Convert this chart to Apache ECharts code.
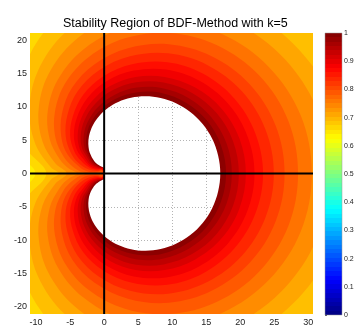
<!DOCTYPE html>
<html>
<head>
<meta charset="utf-8">
<script src="https://cdn.jsdelivr.net/npm/echarts@6/dist/echarts.min.js"></script>
<style>
html, body { margin: 0; padding: 0; background: #fff; }
#chart { width: 358px; height: 327px; }
</style>
</head>
<body>
<div id="chart"></div>
<script>
// axis extents and ticks
var xRange = [-10.9, 30.7];
var yRange = [-21.1, 21.1];
var xTicks = [-10, -5, 0, 5, 10, 15, 20, 25, 30];
var yTicks = [-20, -15, -10, -5, 0, 5, 10, 15, 20];

// level lines of the colour field, upper half only (the picture is mirror symmetric in y)
var c065 = [[42.7,0],[40,13.3],[32.5,24.2],[21.7,31.1],[9.9,33.2],[-1.0,30.6],[-9.1,24.6],[-13.6,17.0],[-14.6,9.4],[-12.8,3.2],[-10.1,0]];
var c0675 = [[39.2,0],[36.85,11.95],[30.15,21.85],[20.55,28.15],[9.9,30.2],[0.1,28.1],[-7.35,22.95],[-11.65,16.25],[-12.8,9.45],[-11.45,3.8],[-8.5,0]];
var c070 = [[35.75,0],[33.7,10.6],[27.8,19.5],[19.4,25.2],[9.9,27.2],[1.2,25.6],[-5.6,21.3],[-9.7,15.5],[-11.0,9.5],[-10.1,4.4],[-7.8,0.9],[-6.65,0]];
var c0725 = [[33.1,0],[31.3,9.65],[26.0,17.75],[18.4,23.05],[9.85,25.0],[1.9,23.7],[-4.35,19.95],[-8.25,14.8],[-9.65,9.4],[-9.05,4.78],[-7.15,1.5],[-5.5,0]];
var c075 = [[30.53,0],[28.9,8.7],[24.2,16.0],[17.4,20.9],[9.8,22.8],[2.6,21.8],[-3.1,18.6],[-6.8,14.1],[-8.3,9.3],[-8.0,5.15],[-6.5,2.1],[-5.2,0.76],[-3.95,0]];
var c0775 = [[28.5,0],[27.05,7.95],[22.8,14.7],[16.6,19.25],[9.65,21.1],[3.05,20.3],[-2.25,17.5],[-5.75,13.5],[-7.25,9.15],[-7.15,5.33],[-5.95,2.5],[-4.85,1.25],[-3.63,0.38],[-2.6,0]];
var c080 = [[26.52,0],[25.2,7.2],[21.4,13.4],[15.8,17.6],[9.5,19.4],[3.5,18.8],[-1.4,16.4],[-4.7,12.9],[-6.2,9.0],[-6.3,5.5],[-5.4,2.9],[-3.4,0.8],[-2.5,0.35],[-1.66,0.18],[-1.0,0.2],[-0.27,0.5],[-0.22,0.25],[-0.22,0]];
var c0825 = [[24.94,0],[23.7,6.65],[20.25,12.35],[15.15,16.3],[9.4,18.05],[3.8,17.6],[-0.75,15.5],[-3.9,12.35],[-5.4,8.8],[-5.65,5.6],[-4.9,3.13],[-3.8,1.6],[-2.35,0.63],[-1.02,0.38],[-0.32,0.58],[-0.19,0.3],[-0.19,0]];
var c085 = [[23.36,0],[22.2,6.1],[19.1,11.3],[14.5,15.0],[9.3,16.7],[4.1,16.4],[-0.1,14.6],[-3.1,11.8],[-4.6,8.6],[-5.0,5.7],[-4.4,3.35],[-3.4,1.9],[-2.2,0.9],[-1.04,0.55],[-0.36,0.65],[-0.17,0.4],[-0.16,0]];
var c0875 = [[22.1,0],[21.05,5.65],[18.2,10.5],[13.95,13.95],[9.1,15.6],[4.35,15.45],[0.35,13.85],[-2.48,11.3],[-4.0,8.4],[-4.45,5.7],[-4.0,3.53],[-3.1,2.2],[-2.1,1.1],[-1.02,0.7],[-0.38,0.72],[-0.13,0.45],[-0.13,0]];
var c090 = [[20.83,0],[19.9,5.2],[17.3,9.7],[13.4,12.9],[8.9,14.5],[4.6,14.5],[0.8,13.1],[-1.85,10.8],[-3.4,8.2],[-3.9,5.7],[-3.6,3.7],[-2.9,2.45],[-2.0,1.3],[-1.0,0.84],[-0.39,0.78],[-0.13,0.8],[-0.1,0.52],[-0.105,0]];
var c0925 = [[19.8,0],[18.95,4.85],[16.53,9.08],[12.93,12.1],[8.75,13.65],[4.7,13.7],[1.15,12.45],[-1.38,10.4],[-2.9,8.0],[-3.45,5.7],[-3.25,3.78],[-2.6,2.6],[-1.85,1.45],[-0.96,0.96],[-0.385,0.85],[-0.13,0.84],[-0.08,0.5],[-0.08,0]];
var c095 = [[18.77,0],[18.0,4.5],[15.75,8.46],[12.45,11.3],[8.6,12.8],[4.8,12.9],[1.5,11.8],[-0.9,10.0],[-2.4,7.8],[-3.0,5.7],[-2.9,3.85],[-2.4,2.75],[-1.7,1.6],[-0.92,1.07],[-0.38,0.91],[-0.13,0.87],[-0.06,0.5],[-0.05,0]];
var c0975 = [[17.92,0],[17.18,4.22],[15.12,7.95],[12.03,10.63],[8.45,12.08],[4.9,12.2],[1.79,11.28],[-0.5,9.63],[-1.99,7.6],[-2.6,5.65],[-2.6,3.9],[-2.15,2.7],[-1.59,1.74],[-0.87,1.17],[-0.37,0.96],[-0.12,0.89],[-0.03,0.5],[-0.025,0]];
// edge of the stability region (white, value > 1)
var edge = [[17.07,0],[16.76,2.68],[15.88,5.2],[14.48,7.43],[12.66,9.24],[10.56,10.56],[8.3,11.35],[6.07,11.61],[3.95,11.38],[2.07,10.75],[0.5,9.8],[-0.72,8.65],[-1.58,7.4],[-2.09,6.15],[-2.31,4.98],[-2.29,3.94],[-2.1,3.07],[-1.47,1.87],[-0.81,1.26],[-0.35,1.01],[-0.11,0.91],[-0.02,0.81],[0,0.68],[0,0]];

var levels = [0.65, 0.675, 0.7, 0.725, 0.75, 0.775, 0.8, 0.825, 0.85, 0.875, 0.9, 0.925, 0.95, 0.975];
var contours = [c065, c0675, c070, c0725, c075, c0775, c080, c0825, c085, c0875, c090, c0925, c095, c0975];
var belowLevel = 0.64;
var cbTicks = [0, 0.1, 0.2, 0.3, 0.4, 0.5, 0.6, 0.7, 0.8, 0.9, 1];

var FONT = 'Liberation Sans, Arial, sans-serif';
var SMOOTH = 0.35;

function jet(v) {
    var c = function (t) { return Math.round(255 * Math.max(0, Math.min(1, t))); };
    return 'rgb(' + c(Math.min(4 * v - 1.5, -4 * v + 4.5)) + ',' +
        c(Math.min(4 * v - 0.5, -4 * v + 3.5)) + ',' +
        c(Math.min(4 * v + 0.5, -4 * v + 2.5)) + ')';
}

// close an upper-half line with its mirror image
function closeLoop(half) {
    var pts = half.slice();
    for (var i = half.length - 2; i >= 1; i--) pts.push([half[i][0], -half[i][1]]);
    return pts;
}

var chart = echarts.init(document.getElementById('chart'));

var cbStops = [];
for (var k = 0; k < 64; k++) {
    var col = jet((k + 0.5) / 64);
    cbStops.push({ offset: k / 64, color: col }, { offset: (k + 1) / 64, color: col });
}

var option = {
    animation: false,
    title: {
        text: 'Stability Region of BDF-Method with k=5',
        left: 58,
        top: 12,
        textStyle: { fontSize: 12.5, fontWeight: 'normal', color: '#000', fontFamily: FONT }
    },
    grid: [
        { left: 30, top: 33, width: 283, height: 282, show: true, backgroundColor: jet(belowLevel), borderWidth: 0 },
        { left: 325, top: 33, width: 17, height: 282 }
    ],
    xAxis: [
        {
            type: 'value', min: xRange[0], max: xRange[1],
            splitLine: { show: false },
            axisLine: { show: false },
            axisTick: { show: true, inside: true, length: 3, customValues: xTicks, lineStyle: { color: '#999' } },
            axisLabel: { customValues: xTicks, fontSize: 9, color: '#222', margin: 4, fontFamily: FONT }
        },
        { type: 'value', gridIndex: 1, min: 0, max: 1, show: false }
    ],
    yAxis: [
        {
            type: 'value', min: yRange[0], max: yRange[1],
            splitLine: { show: false },
            axisLine: { show: false },
            axisTick: { show: true, inside: true, length: 3, customValues: yTicks, lineStyle: { color: '#999' } },
            axisLabel: { customValues: yTicks, fontSize: 9, color: '#222', margin: 3, fontFamily: FONT }
        },
        {
            type: 'value', gridIndex: 1, min: 0, max: 1, position: 'right',
            splitLine: { show: false },
            axisLine: { show: false },
            axisTick: { show: true, length: 2, customValues: cbTicks, lineStyle: { color: '#555' } },
            axisLabel: {
                customValues: cbTicks, fontSize: 7, color: '#222', margin: 2, fontFamily: FONT,
                formatter: function (v) { return String(Math.round(v * 10) / 10); }
            }
        }
    ],
    series: [
        {
            name: 'bands',
            type: 'custom',
            coordinateSystem: 'cartesian2d',
            clip: true,
            silent: true,
            data: levels.map(function (l, i) { return [i, 0]; }),
            renderItem: function (params, api) {
                var i = params.dataIndex;
                var hi = i + 1 < levels.length ? levels[i + 1] : 1;
                var pts = closeLoop(contours[i]).map(function (p) { return api.coord(p); });
                return {
                    type: 'polygon',
                    shape: { points: pts, smooth: SMOOTH },
                    style: { fill: jet((levels[i] + hi) / 2), stroke: null }
                };
            }
        },
        {
            name: 'region',
            type: 'custom',
            coordinateSystem: 'cartesian2d',
            clip: true,
            silent: true,
            data: [[0, 0]],
            renderItem: function (params, api) {
                var pts = closeLoop(edge).map(function (p) { return api.coord(p); });
                var grid = [];
                xTicks.forEach(function (v) {
                    if (v === 0) return;
                    var a = api.coord([v, yRange[0]]), b = api.coord([v, yRange[1]]);
                    var x = Math.round(a[0]) + 0.5;
                    grid.push({ type: 'line', shape: { x1: x, y1: a[1], x2: x, y2: b[1] },
                        style: { stroke: '#b4b4b4', lineWidth: 1, lineDash: [1, 2] } });
                });
                yTicks.forEach(function (v) {
                    if (v === 0) return;
                    var a = api.coord([xRange[0], v]), b = api.coord([xRange[1], v]);
                    var y = Math.round(a[1]) + 0.5;
                    grid.push({ type: 'line', shape: { x1: a[0], y1: y, x2: b[0], y2: y },
                        style: { stroke: '#b4b4b4', lineWidth: 1, lineDash: [1, 2] } });
                });
                var o1 = api.coord([0, yRange[0]]), o2 = api.coord([0, yRange[1]]);
                var h1 = api.coord([xRange[0], 0]), h2 = api.coord([xRange[1], 0]);
                return {
                    type: 'group',
                    children: [
                        { type: 'polygon', shape: { points: pts, smooth: SMOOTH }, style: { fill: '#fff' } },
                        {
                            type: 'group',
                            children: grid,
                            clipPath: { type: 'polygon', shape: { points: pts, smooth: SMOOTH } }
                        },
                        { type: 'line', shape: { x1: o1[0], y1: o1[1], x2: o2[0], y2: o2[1] }, style: { stroke: '#000', lineWidth: 2 } },
                        { type: 'line', shape: { x1: h1[0], y1: h1[1], x2: h2[0], y2: h2[1] }, style: { stroke: '#000', lineWidth: 2 } }
                    ]
                };
            }
        },
        {
            name: 'colorbar',
            type: 'custom',
            coordinateSystem: 'cartesian2d',
            xAxisIndex: 1,
            yAxisIndex: 1,
            silent: true,
            data: [[0, 0]],
            renderItem: function (params, api) {
                var p0 = api.coord([0, 0]), p1 = api.coord([1, 1]);
                return {
                    type: 'rect',
                    shape: { x: p0[0], y: p1[1], width: p1[0] - p0[0], height: p0[1] - p1[1] },
                    style: { fill: new echarts.graphic.LinearGradient(0, 1, 0, 0, cbStops), stroke: '#999', lineWidth: 0.5 }
                };
            }
        }
    ]
};

chart.setOption(option);
</script>
</body>
</html>
